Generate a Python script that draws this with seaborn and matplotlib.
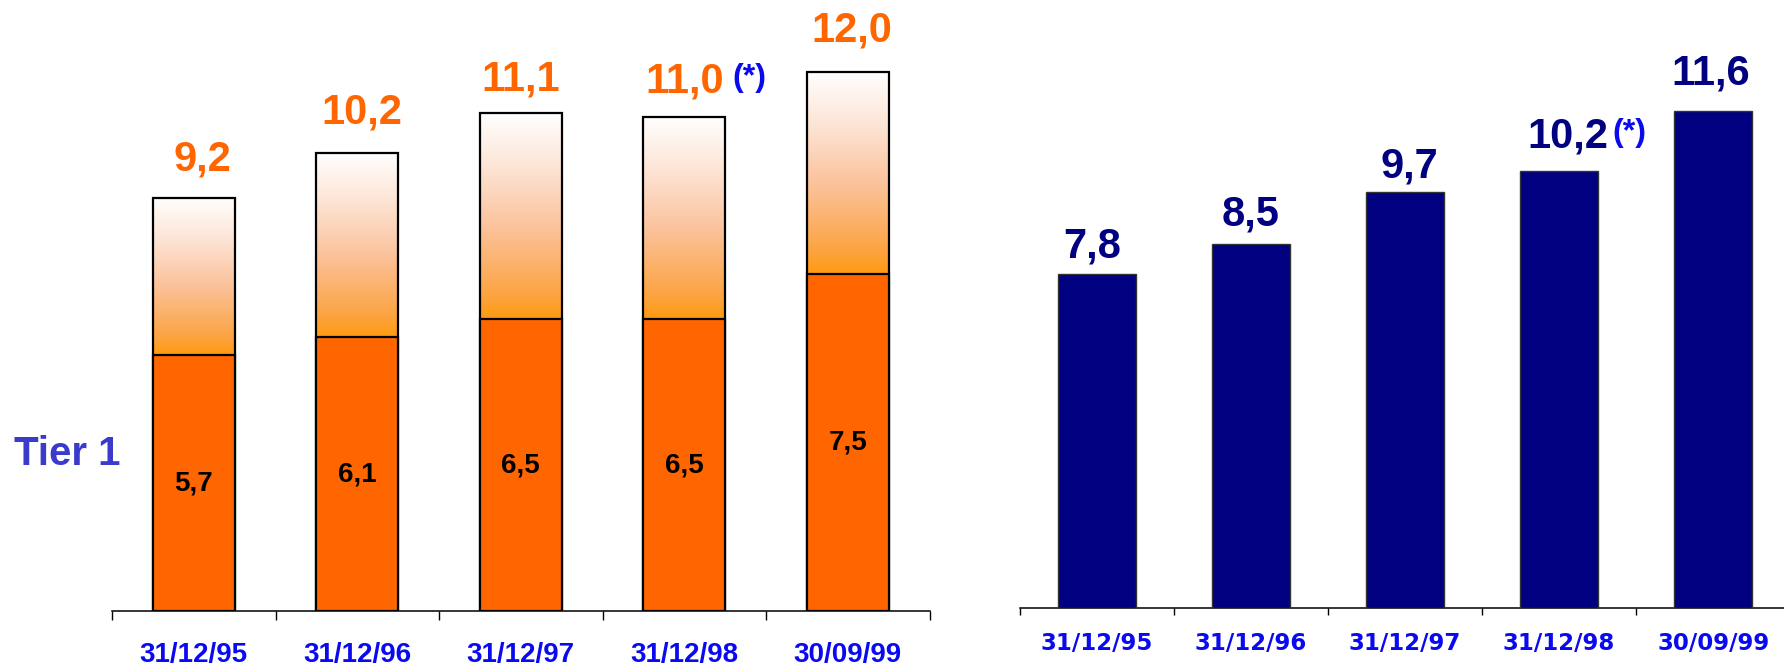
import numpy as np
import matplotlib
matplotlib.use('Agg')
import matplotlib.pyplot as plt
from matplotlib.colors import LinearSegmentedColormap
from matplotlib.ticker import FixedLocator
import seaborn as sns


# data
dates = ['31/12/95', '31/12/96', '31/12/97', '31/12/98', '30/09/99']
total_ratio = [9.2, 10.2, 11.1, 11.0, 12.0]
tier1_ratio = [5.7, 6.1, 6.5, 6.5, 7.5]
right_ratio = [7.8, 8.5, 9.7, 10.2, 11.6]
starred = '31/12/98'


def fmt(v):
    return ('%.1f' % v).replace('.', ',')


# style
sns.set_style('white')
plt.rcParams['font.family'] = ['Liberation Sans', 'DejaVu Sans']
plt.rcParams['font.weight'] = 'bold'

orange = '#FF6600'
navy = '#000080'
blue = '#0A0AF0'

W, H = 1784, 665
fig = plt.figure(figsize=(W / 100, H / 100), dpi=100)
axL = fig.add_axes([112 / W, 54 / H, 817.5 / W, 611 / H])
axR = fig.add_axes([1020 / W, 57 / H, 764 / W, 608 / H])

# left chart: total ratio with gradient top, tier 1 solid
sns.barplot(x=dates, y=total_ratio, color='white', saturation=1, edgecolor='black',
            linewidth=1.6, width=0.5, ax=axL, zorder=3)
tot_patches = list(axL.patches)
for p in tot_patches:
    p.set_facecolor('none')

cmap = LinearSegmentedColormap.from_list('tier2', [(0, '#FF9A10'), (0.12, '#FCA443'),
                                                   (0.45, '#FBC39D'), (0.75, '#FDE6D8'),
                                                   (1, '#FFFFFF')])
grad = np.linspace(0, 1, 256).reshape(-1, 1)
for p, lo, hi in zip(tot_patches, tier1_ratio, total_ratio):
    axL.imshow(grad, extent=[p.get_x(), p.get_x() + p.get_width(), lo, hi],
               cmap=cmap, aspect='auto', origin='lower', zorder=2)

sns.barplot(x=dates, y=tier1_ratio, color=orange, saturation=1, edgecolor='black',
            linewidth=1.6, width=0.5, ax=axL, zorder=4)

# hand placed label offsets (points)
left_dx = [6.5, 3.5, 0, 0, 3]
left_dy = [20, 21, 16, 18, 22]
for i, (d, t, t1) in enumerate(zip(dates, total_ratio, tier1_ratio)):
    txt = axL.annotate(fmt(t), xy=(i, t), xytext=(left_dx[i], left_dy[i]),
                       textcoords='offset points', ha='center', va='baseline',
                       fontsize=30, fontweight='bold', color=orange)
    if d == starred:
        axL.annotate('(*)', xy=(1, 0), xycoords=txt, xytext=(6, 6), textcoords='offset points',
                     ha='left', va='bottom', fontsize=23, fontweight='bold', color=blue)
    axL.text(i, t1 / 2, fmt(t1), ha='center', va='center', fontsize=20,
             fontweight='bold', color='black', zorder=5)

# right chart
sns.barplot(x=dates, y=right_ratio, color=navy, saturation=1, edgecolor='#333333',
            linewidth=1, width=0.505, ax=axR, zorder=3)

right_dx = [-3.5, -0.5, 3, 6.5, -1.5]
right_dy = [12, 13, 11, 17, 19]
for i, (d, v) in enumerate(zip(dates, right_ratio)):
    txt = axR.annotate(fmt(v), xy=(i, v), xytext=(right_dx[i], right_dy[i]),
                       textcoords='offset points', ha='center', va='baseline',
                       fontsize=30, fontweight='bold', color=navy)
    if d == starred:
        axR.annotate('(*)', xy=(1, 0), xycoords=txt, xytext=(3, 6), textcoords='offset points',
                     ha='left', va='bottom', fontsize=23, fontweight='bold', color=blue)

# axes cosmetics
for ax, xmax, ymax, tick_len, pad, lab_font, lab_size in [
        (axL, 4.5, 13.61, 6.5, 22, 'Liberation Sans', 20),
        (axR, 4.46, 14.19, 5, 17, 'DejaVu Sans', 16.5)]:
    ax.set_xlim(-0.5, xmax)
    ax.set_ylim(0, ymax)
    ax.set_yticks([])
    ax.set_xlabel('')
    ax.set_ylabel('')
    for s in ['left', 'top', 'right']:
        ax.spines[s].set_visible(False)
    ax.spines['bottom'].set_color('black')
    ax.spines['bottom'].set_linewidth(1.1)
    ax.set_xticks(range(len(dates)))
    ax.set_xticklabels(dates, fontsize=lab_size, fontweight='bold', color=blue,
                       family=lab_font)
    ax.tick_params(axis='x', which='major', length=0, pad=pad)
    ax.xaxis.set_minor_locator(FixedLocator(np.arange(-0.5, len(dates), 1)))
    ax.tick_params(axis='x', which='minor', bottom=True, length=tick_len, width=1,
                   color='black', direction='out')
    ax.set_facecolor('white')

fig.text(14 / W, (H - 465) / H, 'Tier 1', ha='left', va='baseline', fontsize=29,
         fontweight='bold', color='#3A3ACC')

fig.savefig('out.png', dpi=100)
